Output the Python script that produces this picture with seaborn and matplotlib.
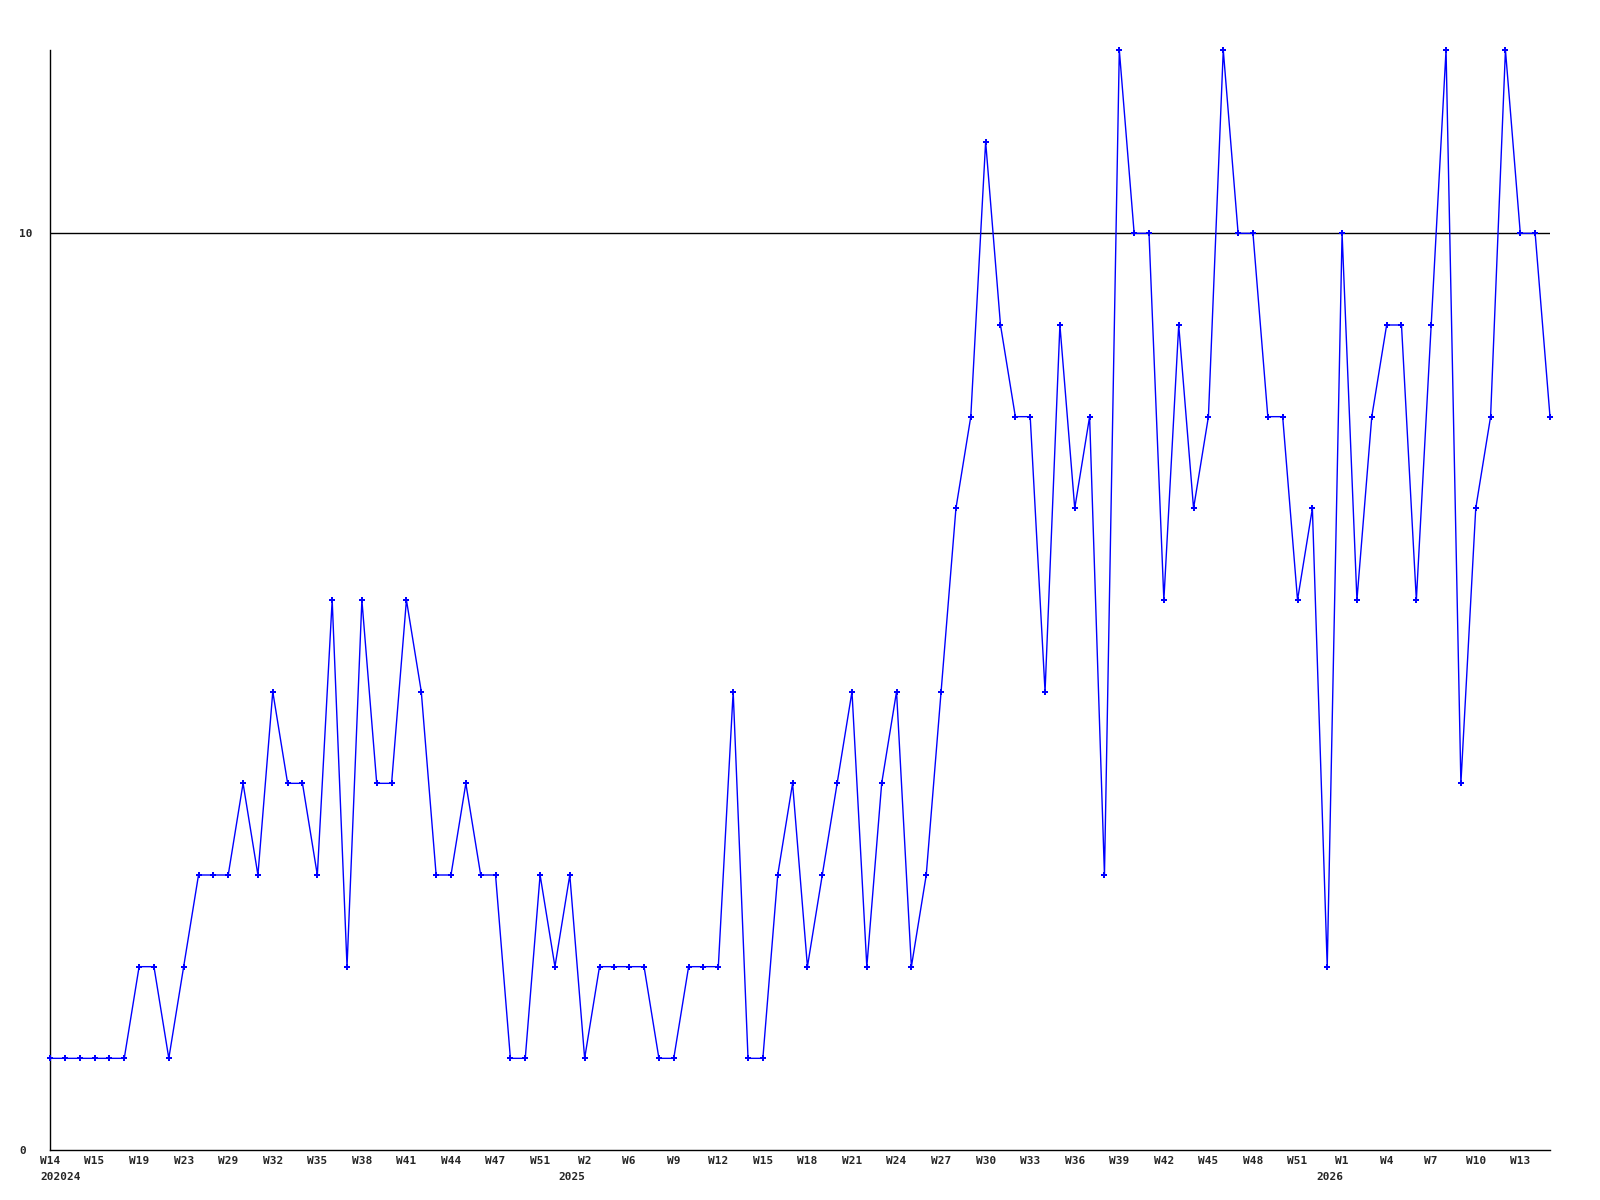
import numpy as np
import pandas as pd
import matplotlib
matplotlib.use("Agg")
import matplotlib.pyplot as plt
import matplotlib.transforms as mtransforms
import seaborn as sns

# weekly counts (one point per entry)
values = [1, 1, 1, 1, 1, 1, 2, 2, 1, 2,
          3, 3, 3, 4, 3, 5, 4, 4, 3, 6,
          2, 6, 4, 4, 6, 5, 3, 3, 4, 3,
          3, 1, 1, 3, 2, 3, 1, 2, 2, 2,
          2, 1, 1, 2, 2, 2, 5, 1, 1, 3,
          4, 2, 3, 4, 5, 2, 4, 5, 2, 3,
          5, 7, 8, 11, 9, 8, 8, 5, 9, 7,
          8, 3, 12, 10, 10, 6, 9, 7, 8, 12,
          10, 10, 8, 8, 6, 7, 2, 10, 6, 8,
          9, 9, 6, 9, 12, 4, 7, 8, 12, 10,
          10, 8]

# x tick labels, every third point
tick_pos = [0, 3, 6, 9, 12, 15, 18, 21, 24, 27, 30, 33, 36, 39, 42, 45, 48,
            51, 54, 57, 60, 63, 66, 69, 72, 75, 78, 81, 84, 87, 90, 93, 96, 99]
tick_labels = ["W14", "W15", "W19", "W23", "W29", "W32", "W35", "W38", "W41",
               "W44", "W47", "W51", "W2", "W6", "W9", "W12", "W15", "W18",
               "W21", "W24", "W27", "W30", "W33", "W36", "W39", "W42", "W45",
               "W48", "W51", "W1", "W4", "W7", "W10", "W13"]

# year markers under some ticks
year_pos = [0, 36, 87]
year_labels = ["202024", "2025", "2026"]

df = pd.DataFrame({"idx": np.arange(len(values)), "count": values})

sns.set_style("white")
plt.rcParams["font.family"] = ["DejaVu Sans Mono"]

fig = plt.figure(figsize=(16, 12), dpi=100)
ax = fig.add_axes([50 / 1600, 1 - 1150 / 1200, 1500 / 1600, 1100 / 1200])

ax.axhline(10, color="black", linewidth=1, zorder=1)
sns.lineplot(data=df, x="idx", y="count", ax=ax, color="#0000ff", linewidth=1.0,
             marker="P", markersize=4.5, markeredgewidth=0, zorder=3,
             clip_on=False)

ax.set_xlim(0, len(values) - 1)
ax.set_ylim(0, 12)
ax.set_xlabel("")
ax.set_ylabel("")

ax.set_yticks([0, 10])
ax.set_yticklabels(["0", "10"], fontsize=8, fontweight="bold", ha="left")
ax.tick_params(axis="y", length=0, pad=22)

ax.set_xticks(tick_pos)
ax.set_xticklabels(tick_labels, fontsize=8, fontweight="bold")
ax.tick_params(axis="x", length=0, pad=4)

for s in ["top", "right"]:
    ax.spines[s].set_visible(False)
for s in ["left", "bottom"]:
    ax.spines[s].set_color("black")
    ax.spines[s].set_linewidth(1)

base = mtransforms.blended_transform_factory(ax.transData, ax.transAxes)
for p, lab in zip(year_pos, year_labels):
    if p == 0:
        tr = mtransforms.offset_copy(base, fig=fig, x=-10, y=-27, units="dots")
        ax.text(p, 0, lab, transform=tr, ha="left", va="center",
                fontsize=8, fontweight="bold")
    else:
        tr = mtransforms.offset_copy(base, fig=fig, x=1, y=-27, units="dots")
        ax.text(p, 0, lab, transform=tr, ha="right", va="center",
                fontsize=8, fontweight="bold")

fig.savefig("out.png", dpi=100, facecolor="white")
